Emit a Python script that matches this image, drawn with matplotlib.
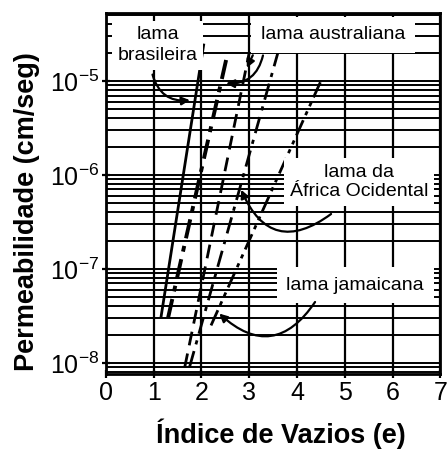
import matplotlib
matplotlib.use("Agg")
import matplotlib.pyplot as plt
import matplotlib.ticker as ticker
import numpy as np

# end points of each mud line: void ratio (e) and permeability k (cm/seg)
e_start = [1.15, 1.30, 1.65, 1.75, 2.20]
e_end = [2.05, 2.55, 3.00, 3.60, 4.50]
k_start = [3.0e-8, 3.0e-8, 9.0e-9, 9.0e-9, 2.5e-8]
k_end = [2.5e-5, 2.0e-5, 2.0e-5, 2.0e-5, 1.0e-5]

x_ticks = [0, 1, 2, 3, 4, 5, 6, 7]
y_ticks = [1e-8, 1e-7, 1e-6, 1e-5]

plt.rcParams.update({
    "font.family": ["Liberation Sans", "DejaVu Sans"],
    "mathtext.fontset": "custom",
    "mathtext.rm": "Liberation Sans",
    "mathtext.it": "Liberation Sans:italic",
    "mathtext.bf": "Liberation Sans:bold",
})

line_styles = [
    dict(linestyle="-", lw=2.0),
    dict(linestyle=(0, (5, 2, 1.5, 2)), lw=2.8),
    dict(linestyle=(0, (5, 3)), lw=2.0),
    dict(linestyle=(0, (6, 2.5, 1.5, 2.5)), lw=2.0),
    dict(linestyle=(0, (6, 2, 1.5, 2, 1.5, 2)), lw=2.0),
]


def on_line(i, k):
    # void ratio of line i at permeability k (straight in semilog space)
    t = (np.log10(k) - np.log10(k_start[i])) / (np.log10(k_end[i]) - np.log10(k_start[i]))
    return e_start[i] + t * (e_end[i] - e_start[i])


fig = plt.figure(figsize=(4.47, 4.57), dpi=100)
ax = fig.add_axes([0.237, 0.1816, 0.748, 0.790])
ax.set_yscale("log")
ax.set_xlim(0, 7)
ax.set_ylim(7.6e-9, 5.3e-5)

# dense log grid
ax.yaxis.set_major_locator(ticker.FixedLocator(y_ticks))
ax.yaxis.set_minor_locator(ticker.LogLocator(base=10, subs=range(2, 10)))
ax.yaxis.set_minor_formatter(ticker.NullFormatter())
ax.yaxis.set_major_formatter(ticker.LogFormatterSciNotation())
ax.set_xticks(x_ticks)
ax.grid(which="both", axis="y", color="black", lw=1.4)
ax.grid(which="major", axis="x", color="black", lw=1.6)
ax.set_axisbelow(True)

for i in range(len(e_start)):
    ax.plot([e_start[i], e_end[i]], [k_start[i], k_end[i]], color="black",
            solid_capstyle="butt", zorder=3, **line_styles[i])

box = dict(boxstyle="square,pad=0.3", facecolor="white", edgecolor="none")
wide_box = dict(boxstyle="square,pad=0.5", facecolor="white", edgecolor="none")
ax.text(1.08, 2.4e-5, "lama\nbrasileira", fontsize=14, ha="center", va="center",
        linespacing=1.3, bbox=box, zorder=4)
ax.text(4.76, 3.1e-5, "lama australiana", fontsize=14, ha="center", va="center",
        bbox=wide_box, zorder=4)
ax.text(5.3, 8.4e-7, "lama da\nÁfrica Ocidental", fontsize=14, ha="center", va="center",
        linespacing=1.2, bbox=box, zorder=4)
ax.text(5.22, 6.7e-8, "lama jamaicana", fontsize=14, ha="center", va="center",
        bbox=wide_box, zorder=4)

arrow = dict(arrowstyle="-|>", color="black", lw=1.6, mutation_scale=12)
ax.annotate("", xy=(on_line(0, 6.3e-6) - 0.05, 6.3e-6), xytext=(0.96, 1.25e-5),
            arrowprops=dict(connectionstyle="arc3,rad=0.45", **arrow), zorder=5)
ax.annotate("", xy=(on_line(1, 9.5e-6) + 0.05, 9.5e-6), xytext=(3.3, 2.0e-5),
            arrowprops=dict(connectionstyle="arc3,rad=-0.45", **arrow), zorder=5)
ax.annotate("", xy=(on_line(2, 1.3e-5), 1.3e-5), xytext=(3.1, 2.0e-5),
            arrowprops=dict(connectionstyle="arc3,rad=0", **arrow), zorder=5)
ax.annotate("", xy=(on_line(3, 7.4e-7), 7.4e-7), xytext=(4.76, 4.0e-7),
            arrowprops=dict(connectionstyle="arc3,rad=-0.65", **arrow), zorder=5)
ax.annotate("", xy=(on_line(4, 3.5e-8), 3.5e-8), xytext=(4.41, 4.7e-8),
            arrowprops=dict(connectionstyle="arc3,rad=-0.6", **arrow), zorder=5)

for s in ax.spines.values():
    s.set_linewidth(2.0)
ax.tick_params(which="major", direction="inout", length=6, width=1.6,
               labelsize=18, pad=2)
ax.tick_params(which="minor", length=0)

ax.set_xlabel("Índice de Vazios (e)", fontsize=19.5, fontweight="bold")
ax.xaxis.set_label_coords(0.522, -0.122)
ax.xaxis.label.set_va("top")
ax.set_ylabel("Permeabilidade (cm/seg)", fontsize=19.5, fontweight="bold")
ax.yaxis.set_label_coords(-0.196, 0.45)

fig.savefig("out.png", dpi=100)
